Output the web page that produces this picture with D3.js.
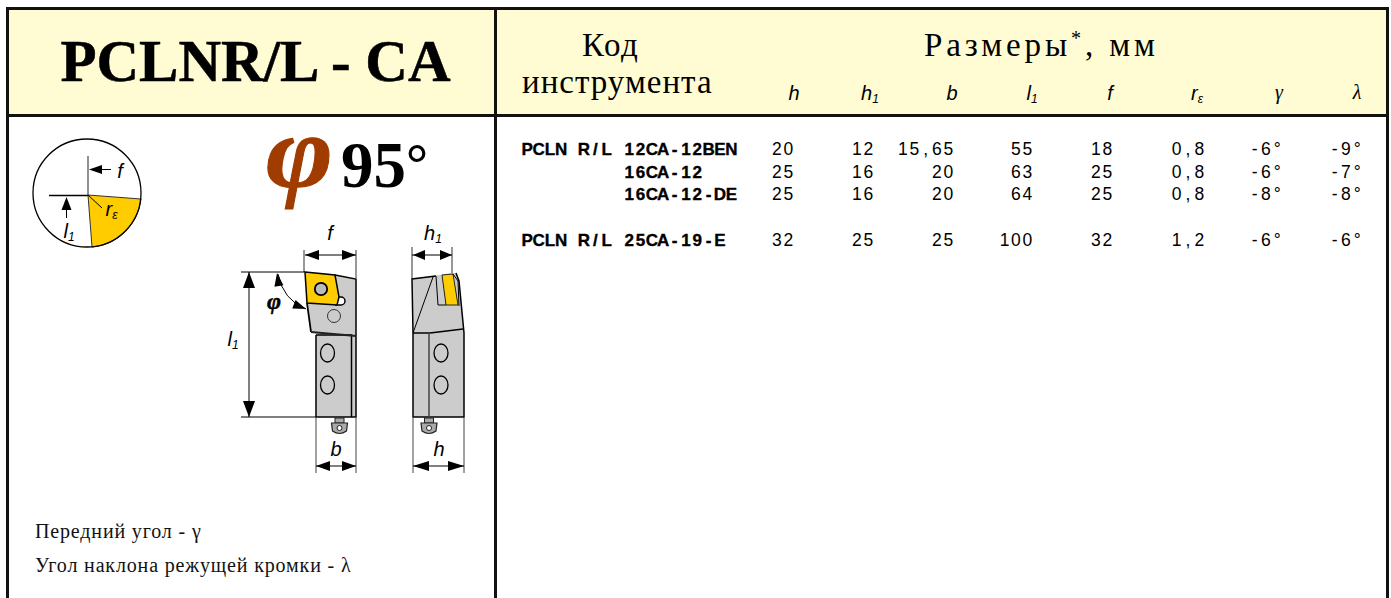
<!DOCTYPE html>
<html>
<head>
<meta charset="utf-8">
<script src="https://cdn.jsdelivr.net/npm/d3@7"></script>
<style>
html, body { margin: 0; padding: 0; background: #fff; overflow: hidden; }
svg { display: block; }
.serif { font-family: "Liberation Serif", serif; }
.sans { font-family: "Liberation Sans", sans-serif; }
</style>
</head>
<body>
<svg id="chart" width="1391" height="598"></svg>
<script>
// table values
var prefixes = ["PCLN R/L", "", "", "PCLN R/L"];
var codes = ["12CA-12BEN", "16CA-12", "16CA-12-DE", "25CA-19-E"];
var rowSlots = [0, 1, 2, 4];
var colH = ["20", "25", "25", "32"];
var colH1 = ["12", "16", "16", "25"];
var colB = ["15,65", "20", "20", "25"];
var colL1 = ["55", "63", "64", "100"];
var colF = ["18", "25", "25", "32"];
var colR = ["0,8", "0,8", "0,8", "1,2"];
var colGamma = ["-6°", "-6°", "-8°", "-6°"];
var colLambda = ["-9°", "-7°", "-8°", "-6°"];
var columns = [colH, colH1, colB, colL1, colF, colR, colGamma, colLambda];
var columnKeys = ["h", "h1", "b", "l1", "f", "r", "gamma", "lambda"];

var svg = d3.select("#chart");
var ink = "#111";
var yellow = "#ffcc00";
var grey = "#cccccc";
var cream = "#fffbd2";
var pitch = 11.35; // the table font is fixed pitch

// column right edges / row baselines
var x = d3.scaleOrdinal().domain(columnKeys).range([794, 874, 954, 1033, 1113, 1205, 1283, 1363]);
var y = d3.scaleLinear().domain([0, 4]).range([155, 245.5]);

// header band + frame
svg.append("rect").attr("x", 7).attr("y", 8).attr("width", 1380).attr("height", 107).attr("fill", cream);
var frame = svg.append("g").attr("stroke", ink).attr("stroke-width", 3).attr("fill", "none");
frame.append("path").attr("d", "M7.5,598V8.5H1387.5V598");
frame.append("path").attr("d", "M495.5,8V598");
frame.append("path").attr("d", "M7,115.5H1387");

function text(parent, x0, y0, s, size, cls, opts) {
  opts = opts || {};
  return parent.append("text")
    .attr("x", x0).attr("y", y0)
    .attr("class", cls)
    .attr("font-size", size)
    .attr("font-weight", opts.weight || "normal")
    .attr("font-style", opts.style || "normal")
    .attr("letter-spacing", opts.spacing || 0)
    .attr("text-anchor", opts.anchor || "start")
    .attr("fill", opts.fill || "#000")
    .text(s);
}

// subscripted italic label, eg l1, h1, r-epsilon
function label(parent, x0, y0, main, sub, size, subSize) {
  var t = text(parent, x0, y0, main, size, "sans", {style: "italic", anchor: "middle"});
  if (sub) t.append("tspan").attr("font-size", subSize).attr("dy", 3).text(sub);
  return t;
}

// x list that centres every glyph in its own fixed width cell
function cells(left, s) {
  return s.split("").map(function(c, i) { return left + (i + 0.5) * pitch; }).join(" ");
}

// header texts
text(svg, 582, 56, "Код", 33, "serif", {spacing: 1.6});
text(svg, 522, 93, "инструмента", 33, "serif", {spacing: 1});
var razm = text(svg, 924, 56, "Размеры", 33, "serif", {spacing: 3.9});
razm.append("tspan").attr("font-size", 20).attr("dy", -11).text("*");
razm.append("tspan").attr("dy", 11).text(", мм");
text(svg, 255.5, 81, "PCLNR/L - CA", 59, "serif", {weight: "bold", anchor: "middle"})
  .attr("stroke", "#000").attr("stroke-width", 0.5);

var headerX = [794, 870, 952, 1032, 1110, 1197, 1279, 1357];
var head = svg.append("g");
label(head, headerX[0], 100, "h", "", 20);
label(head, headerX[1], 100, "h", "1", 20, 12);
label(head, headerX[2], 100, "b", "", 20);
label(head, headerX[3], 100, "l", "1", 20, 12);
label(head, headerX[4], 100, "f", "", 20);
label(head, headerX[5], 100, "r", "ε", 20, 12);
text(head, headerX[6], 99, "γ", 20, "serif", {style: "italic", anchor: "middle"});
text(head, headerX[7], 99, "λ", 20, "serif", {style: "italic", anchor: "middle"});

// table rows
var rows = svg.append("g");
rows.selectAll(".prefix").data(prefixes).enter().append("text")
  .attr("class", "prefix sans")
  .attr("x", function(d) { return cells(521.5, d); })
  .attr("y", function(d, i) { return y(rowSlots[i]); })
  .attr("font-size", 17).attr("font-weight", "bold").attr("text-anchor", "middle")
  .attr("stroke", "#000").attr("stroke-width", 0.35)
  .text(function(d) { return d; });
rows.selectAll(".code").data(codes).enter().append("text")
  .attr("class", "code sans")
  .attr("x", function(d) { return cells(623.5, d); })
  .attr("y", function(d, i) { return y(rowSlots[i]); })
  .attr("font-size", 17).attr("font-weight", "bold").attr("text-anchor", "middle")
  .attr("stroke", "#000").attr("stroke-width", 0.35)
  .text(function(d) { return d; });
columns.forEach(function(col, c) {
  rows.selectAll(".c" + c).data(col).enter().append("text")
    .attr("class", "c" + c + " sans")
    .attr("x", function(d) { return cells(x(columnKeys[c]) - d.length * pitch, d); })
    .attr("y", function(d, i) { return y(rowSlots[i]); })
    .attr("font-size", 17.5).attr("text-anchor", "middle")
    .text(function(d) { return d; });
});

// ---- drawings on the left ----
function line(parent, d, w, col) {
  return parent.append("path").attr("d", d).attr("fill", "none")
    .attr("stroke", col || "#000").attr("stroke-width", w || 1);
}
function arrow(parent, tipX, tipY, dx, dy, len, half) {
  // filled arrow head, (dx,dy) points from the tip back to the base
  var nx = -dy, ny = dx;
  var bx = tipX + dx * len, by = tipY + dy * len;
  parent.append("path")
    .attr("d", "M" + tipX + "," + tipY + "L" + (bx + nx * half) + "," + (by + ny * half) + "L" + (bx - nx * half) + "," + (by - ny * half) + "Z")
    .attr("fill", "#000");
}

// circle key
var key = svg.append("g");
key.append("circle").attr("cx", 87).attr("cy", 193).attr("r", 54).attr("fill", "#fff");
key.append("path").attr("d", "M88,195L141,199A54,54 0 0 1 92,247Z").attr("fill", yellow).attr("stroke", "#333").attr("stroke-width", 1);
key.append("circle").attr("cx", 87).attr("cy", 193).attr("r", 54).attr("fill", "none").attr("stroke", "#000").attr("stroke-width", 1.3);
line(key, "M88,156V195", 1.3, "#555");
line(key, "M49,195.5H88", 1.3);
line(key, "M88,195L102,208", 1);
line(key, "M100,169.5H111", 1);
arrow(key, 89, 169.5, 1, 0, 13, 4.5);
line(key, "M66.5,208V218", 1);
arrow(key, 66.5, 197, 0, 1, 13, 5);
label(key, 120, 178, "f", "", 20);
label(key, 69, 238, "l", "1", 20, 12);
label(key, 111.5, 216, "r", "ε", 20, 12);

// phi 95
text(svg, 0, 0, "φ", 104, "serif", {style: "italic", weight: "bold", fill: "#a03c00"})
  .attr("transform", "translate(266,187) scale(1.1,1)")
  .attr("stroke", "#a03c00").attr("stroke-width", 1);
text(svg, 341, 187, "95", 65, "serif", {weight: "bold"});
text(svg, 405, 187, "°", 60, "sans");

// side view
var tool = svg.append("g");
tool.append("path").attr("d", "M335,275L356,279V417H316V334L311,331L307,303Z").attr("fill", grey).attr("stroke", "none");
line(tool, "M335,275L356,279V417H316V335", 1.5);
line(tool, "M311,332L307,303", 1.8);
line(tool, "M316,335H351.5V417", 1.5);
line(tool, "M311,332L356,336", 1.8, "#222");
tool.append("path").attr("d", "M336,297H341A4,4 0 0 1 341,305H336Z").attr("fill", "#fff").attr("stroke", "#000").attr("stroke-width", 1.5);
tool.append("path").attr("d", "M305,272L335,275L339,297L337,305L307,303Z").attr("fill", yellow).attr("stroke", "#000").attr("stroke-width", 1.5);
tool.append("circle").attr("cx", 321).attr("cy", 289).attr("r", 6.2).attr("fill", "#bbb").attr("stroke", "#000").attr("stroke-width", 1.8);
tool.append("circle").attr("cx", 334).attr("cy", 316).attr("r", 6.5).attr("fill", "none").attr("stroke", "#333").attr("stroke-width", 1);
[353, 385].forEach(function(cy) {
  tool.append("ellipse").attr("cx", 327.5).attr("cy", cy).attr("rx", 7).attr("ry", 9).attr("fill", "none").attr("stroke", "#000").attr("stroke-width", 1.3);
});

// front view
var tool2 = svg.append("g");
tool2.append("path").attr("d", "M412,279L452,273H456L459,281L464,333V417H413V333Z").attr("fill", grey);
line(tool2, "M413,333V417H464V333L459,281L456,273", 1.5);
line(tool2, "M413,333L412,279L436,276", 1.5);
line(tool2, "M413,333L433,277", 1);
line(tool2, "M413,333H430L463,329", 1.5);
line(tool2, "M429,333V417", 1.5, "#444");
line(tool2, "M436,276L438,305H446", 1);
tool2.append("path").attr("d", "M442,275L453,274L458,305L446,305Z").attr("fill", yellow).attr("stroke", "#222").attr("stroke-width", 1);
line(tool2, "M453,274L458,281L459,306", 1);
[353, 385].forEach(function(cy) {
  tool2.append("ellipse").attr("cx", 441).attr("cy", cy).attr("rx", 7).attr("ry", 9).attr("fill", "none").attr("stroke", "#000").attr("stroke-width", 1.3);
});

// screws
[[339.5, tool], [429, tool2]].forEach(function(p) {
  var cx = p[0], g = p[1];
  g.append("rect").attr("x", cx - 4.5).attr("y", 418).attr("width", 9).attr("height", 5).attr("fill", "#aaa").attr("stroke", "#222").attr("stroke-width", 1);
  g.append("path").attr("d", "M" + (cx - 8) + ",423H" + (cx + 8) + "L" + (cx + 7) + ",431Q" + cx + ",436 " + (cx - 7) + ",431Z").attr("fill", "#aaa").attr("stroke", "#222").attr("stroke-width", 1.2);
  g.append("circle").attr("cx", cx).attr("cy", 428).attr("r", 2.5).attr("fill", "#fff").attr("stroke", "#222").attr("stroke-width", 1);
});

// dimension lines
var dim = svg.append("g");
line(dim, "M304,250V272M356,250V278M412,247V279M452,247V273", 1, "#333");
line(dim, "M305,255H356M412,255H452", 1);
arrow(dim, 305, 255, 1, 0, 14, 5);
arrow(dim, 356, 255, -1, 0, 14, 5);
arrow(dim, 413, 255, 1, 0, 12, 5);
arrow(dim, 452, 255, -1, 0, 12, 5);
label(dim, 330, 240, "f", "", 20);
label(dim, 433, 240, "h", "1", 20, 12);

line(dim, "M241,272H305M241,417H316", 1);
line(dim, "M249,272V417", 1);
arrow(dim, 249, 272, 0, 1, 16, 6);
arrow(dim, 249, 417, 0, -1, 16, 6);
label(dim, 233, 346, "l", "1", 20, 12);

line(dim, "M278,274Q283,300 306,309", 1);
arrow(dim, 277, 273, 0.15, 1, 13, 4.5);
arrow(dim, 306, 309, -0.93, -0.37, 13, 4.5);
text(dim, 274, 309, "φ", 24, "serif", {style: "italic", weight: "bold", anchor: "middle"}).attr("stroke", "#000").attr("stroke-width", 0.5);

line(dim, "M316,418V473M356,418V473M413,418V473M464,418V473", 1, "#444");
line(dim, "M316,466H356M413,466H464", 1);
arrow(dim, 316, 466, 1, 0, 14, 5);
arrow(dim, 356, 466, -1, 0, 14, 5);
arrow(dim, 413, 466, 1, 0, 16, 5);
arrow(dim, 464, 466, -1, 0, 16, 5);
label(dim, 336, 456, "b", "", 20);
label(dim, 439, 456, "h", "", 20);

// notes
text(svg, 35, 538, "Передний угол - γ", 20, "serif", {fill: "#111", spacing: 0.85});
text(svg, 35, 572, "Угол наклона режущей кромки - λ", 20, "serif", {fill: "#111", spacing: 0.85});
</script>
</body>
</html>
